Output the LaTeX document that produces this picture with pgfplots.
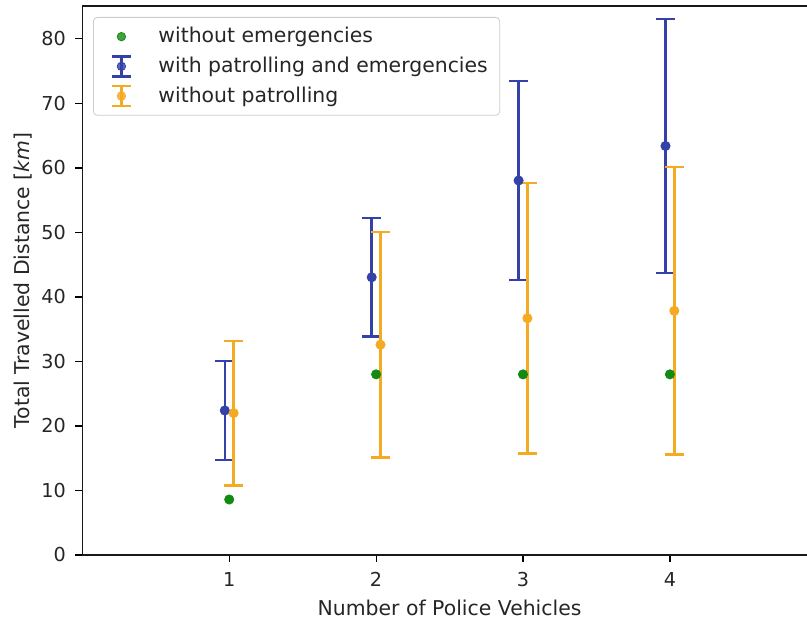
\documentclass[border=0pt]{standalone}
\usepackage{fontspec}
\setmainfont{DejaVu Sans}
\usepackage{pgfplots}
\pgfplotsset{compat=1.18}
\definecolor{cblue}{HTML}{3341A8}
\definecolor{corange}{HTML}{F4AA22}
\definecolor{cgreen}{HTML}{138A13}
\newcommand{\ff}{\fontsize{9.6}{11.5}\selectfont}
\newcommand{\fl}{\fontsize{10.2}{12}\selectfont}
\begin{document}
\begin{tikzpicture}
\useasboundingbox (-41.15pt,-32pt) rectangle (362.35pt,277.5pt);
\begin{axis}[
  at={(0,0)}, anchor=south west,
  scale only axis,
  width=367.25pt, height=274.5pt,
  xmin=0, xmax=5, ymin=0, ymax=85.1,
  xtick={1,2,3,4}, ytick={0,10,20,30,40,50,60,70,80},
  xtick pos=bottom, ytick pos=left,
  tick align=outside,
  major tick length=3.5pt,
  every tick/.style={black, line width=0.6pt},
  axis line style={line width=0.75pt, black!90},
  /pgf/number format/assume math mode=true,
  ticklabel style={font=\ff, text=black!85},
  xticklabel style={yshift=-1.5pt},
  yticklabel style={xshift=-1.2pt},
  every axis x label/.style={at={(axis cs:2.5,0)}, yshift=-26.5pt, anchor=center, font=\fl, text=black!85},
  every axis y label/.style={at={(axis description cs:0,0.5)}, xshift=-29.65pt, anchor=center, rotate=90, font=\fl, text=black!85},
  xlabel={Number of Police Vehicles},
  ylabel={Total Travelled Distance [\textit{km}]},
  legend cell align=left,
  legend style={at={(axis description cs:0,1)}, anchor=north west, xshift=5.35pt, yshift=-5.5pt,
    draw=black!20, rounded corners=2pt, fill=white, fill opacity=0.8, text opacity=1,
    font=\fl, text=black!85, row sep=1.6pt, inner xsep=4pt, inner ysep=3pt},
]
\addplot[forget plot, only marks, color=cblue, mark=*, mark size=2.3pt,
  error bars/.cd, y dir=both, y explicit,
  error bar style={line width=1.25pt, cblue},
  error mark options={rotate=90, mark size=4.9pt, line width=1.25pt, cblue}]
  coordinates {
  (0.97,22.4) +- (0,7.7)
  (1.97,43.05) +- (0,9.15)
  (2.97,58.05) +- (0,15.45)
  (3.97,63.4) +- (0,19.7)
  };
\addplot[forget plot, only marks, color=corange, mark=*, mark size=2.3pt,
  error bars/.cd, y dir=both, y explicit,
  error bar style={line width=1.25pt, corange},
  error mark options={rotate=90, mark size=4.9pt, line width=1.25pt, corange}]
  coordinates {
  (1.03,22.0) +- (0,11.2)
  (2.03,32.6) +- (0,17.5)
  (3.03,36.7) +- (0,21.0)
  (4.03,37.85) +- (0,22.3)
  };
\addplot[forget plot, only marks, color=cgreen, mark=*, mark size=2.3pt]
  coordinates {(1,8.6) (2,28.0) (3,28.0) (4,28.0)};
\addlegendimage{legend image code/.code={
  \path[draw=none,fill=none] (0,0) (26.5pt,0);
  \fill[cgreen] (10pt,0) circle (2.1pt);}}
\addlegendentry{without emergencies}
\addlegendimage{legend image code/.code={
  \path[draw=none,fill=none] (0,0) (26.5pt,0);
  \draw[cblue,line width=1.25pt] (10pt,-5pt)--(10pt,5pt) (5.25pt,-5pt)--(14.75pt,-5pt) (5.25pt,5pt)--(14.75pt,5pt);
  \fill[cblue] (10pt,0) circle (2.1pt);}}
\addlegendentry{with patrolling and emergencies}
\addlegendimage{legend image code/.code={
  \path[draw=none,fill=none] (0,0) (26.5pt,0);
  \draw[corange,line width=1.25pt] (10pt,-5pt)--(10pt,5pt) (5.25pt,-5pt)--(14.75pt,-5pt) (5.25pt,5pt)--(14.75pt,5pt);
  \fill[corange] (10pt,0) circle (2.1pt);}}
\addlegendentry{without patrolling}
\end{axis}
\end{tikzpicture}
\end{document}
